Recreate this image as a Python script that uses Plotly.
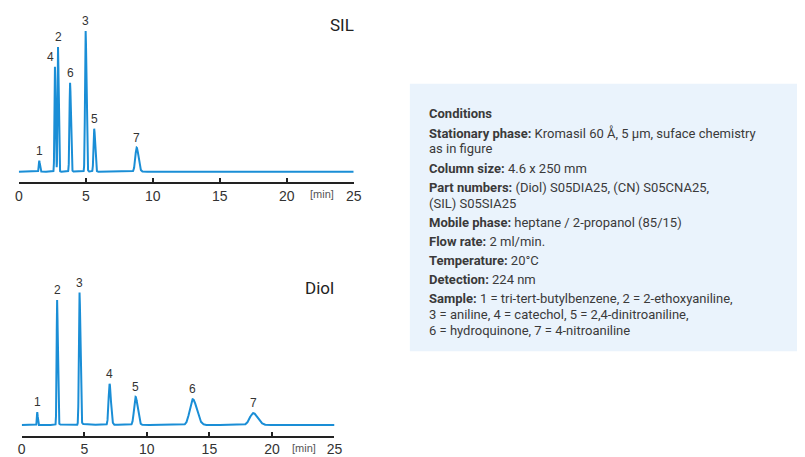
import numpy as np
import plotly.graph_objects as go

W, H = 805, 457

# ---------------- data ----------------
peak_labels = ["1", "2", "3", "4", "5", "6", "7"]

sil_times = [1.53, 2.93, 4.99, 2.70, 5.63, 3.83, 8.80]
sil_heights = [11, 125, 141, 105, 43, 89, 24]
sil_sigma = [0.035, 0.035, 0.045, 0.035, 0.05, 0.045, 0.10]

diol_times = [1.24, 2.83, 4.62, 7.02, 9.10, 13.67, 18.50]
diol_heights = [13, 125, 132, 41, 28, 26, 12]
diol_sigma = [0.03, 0.04, 0.05, 0.08, 0.12, 0.24, 0.27]
diol_tail = [0, 0.8, 1.5, 0.5, 0.3, 0, 0]

tick_vals = [0, 5, 10, 15, 20, 25]
tick_text = ["0", "5", "10", "15", "20", "25"]

cond_lines = [
    ("<b>Conditions</b>", 113.5),
    ("<b>Stationary phase:</b> Kromasil 60 Å, 5 µm, suface chemistry", 133),
    ("as in figure", 149),
    ("<b>Column size:</b> 4.6 x 250 mm", 168.5),
    ("<b>Part numbers:</b> (Diol) S05DIA25, (CN) S05CNA25,", 187.5),
    ("(SIL) S05SIA25", 203.5),
    ("<b>Mobile phase:</b> heptane / 2-propanol (85/15)", 223),
    ("<b>Flow rate:</b> 2 ml/min.", 242),
    ("<b>Temperature:</b> 20°C", 261),
    ("<b>Detection:</b> 224 nm", 280),
    ("<b>Sample:</b> 1 = tri-tert-butylbenzene, 2 = 2-ethoxyaniline,", 299),
    ("3 = aniline, 4 = catechol, 5 = 2,4-dinitroaniline,", 315),
    ("6 = hydroquinone, 7 = 4-nitroaniline", 331.5),
]

# ---------------- helpers ----------------
def px_x(p):
    return p / W

def px_y(p):
    return 1 - p / H

t = np.linspace(0, 25, 6001)

def chrom(times, heights, sigmas, tails=None):
    y = np.zeros_like(t)
    for i, (t0, h, s) in enumerate(zip(times, heights, sigmas)):
        sr = s * 1.35
        sig = np.where(t < t0, s, sr)
        y += h * np.exp(-0.5 * ((t - t0) / sig) ** 2)
        if tails is not None and tails[i] > 0:
            ramp = 1 / (1 + np.exp(-(t - t0) / (s * 0.8)))
            y += tails[i] * ramp * np.exp(-np.clip(t - t0, 0, None) / 0.7)
    return y

LINE = "#1a8ed6"
AX = "#222222"
NARROW = "Liberation Sans Narrow, Arial Narrow, Liberation Sans, Arial"

fig = go.Figure()

panels = [
    dict(times=sil_times, heights=sil_heights, sig=sil_sigma, tails=None,
         x0=15, x1=355, axis=182.5, base=172, top=20, xa="x", ya="y",
         title="SIL", tx=357, ty=25, minx=22.6, miny=194),
    dict(times=diol_times, heights=diol_heights, sig=diol_sigma, tails=diol_tail,
         x0=18, x1=335.5, axis=436.5, base=426, top=280, xa="x2", ya="y2",
         title="Diol", tx=337, ty=289, minx=22.6, miny=449),
]

label_xshift = {("x", "4"): -4}

for k, p in enumerate(panels):
    sig = chrom(p["times"], p["heights"], p["sig"], p["tails"])
    fig.add_trace(go.Scatter(x=t, y=sig, mode="lines", xaxis=p["xa"], yaxis=p["ya"],
                             line=dict(color=LINE, width=2), hoverinfo="skip",
                             showlegend=False))
    off = p["axis"] - p["base"]
    rng = [-off, p["axis"] - p["top"] - off]
    suffix = "" if k == 0 else "2"
    fig.layout["xaxis" + suffix] = dict(
        domain=[px_x(p["x0"]), px_x(p["x1"])], range=[0, 25], anchor="y" + suffix,
        showline=True, linecolor=AX, linewidth=1.5, ticks="inside", ticklen=4,
        tickwidth=1.5, tickcolor=AX, tickvals=tick_vals, ticktext=tick_text,
        showgrid=False, zeroline=False,
        tickfont=dict(family=NARROW, size=14, color="#333333"),
        fixedrange=True)
    fig.layout["yaxis" + suffix] = dict(
        domain=[px_y(p["axis"]), px_y(p["top"])], range=rng, anchor="x" + suffix,
        visible=False, showgrid=False, zeroline=False, fixedrange=True)
    for lab, t0, h in zip(peak_labels, p["times"], p["heights"]):
        fig.add_annotation(x=t0, y=h, xref=p["xa"], yref=p["ya"], text=lab,
                           showarrow=False, yanchor="bottom", yshift=1,
                           xshift=label_xshift.get((p["xa"], lab), 0),
                           font=dict(family=NARROW, size=12, color="#333333"))
    fig.add_annotation(x=px_x(p["tx"]), y=px_y(p["ty"]), xref="paper", yref="paper",
                       text=p["title"], showarrow=False, xanchor="right",
                       yanchor="middle",
                       font=dict(family="Roboto, Liberation Sans", size=17,
                                 color="#222222"))
    fig.add_annotation(x=p["minx"], y=px_y(p["miny"]), xref=p["xa"], yref="paper",
                       text="[min]", showarrow=False, yanchor="middle",
                       font=dict(family=NARROW, size=11, color="#555555"))

# conditions box
fig.add_shape(type="rect", xref="paper", yref="paper",
              x0=px_x(412), x1=px_x(805), y0=px_y(352), y1=px_y(84),
              fillcolor="#eaf3fc", line=dict(width=0), layer="below")
for txt, yp in cond_lines:
    fig.add_annotation(x=px_x(429), y=px_y(yp), xref="paper", yref="paper",
                       text=txt, showarrow=False, xanchor="left", yanchor="middle",
                       font=dict(family="Roboto", size=13, color="#3a3a3a"))

fig.update_layout(width=W, height=H, margin=dict(l=0, r=0, t=0, b=0),
                  paper_bgcolor="white", plot_bgcolor="rgba(0,0,0,0)",
                  showlegend=False)

fig.write_html("out.html")
